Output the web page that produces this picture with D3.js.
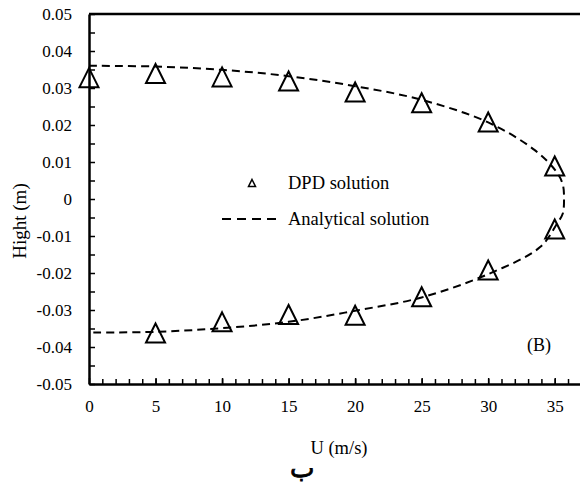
<!DOCTYPE html>
<html>
<head>
<meta charset="utf-8">
<script src="https://cdn.jsdelivr.net/npm/d3@7"></script>
<style>
  body { margin: 0; background: #fff; }
</style>
</head>
<body>
<div id="chart"></div>
<script>
// DPD simulation points (U in m/s, height in m)
var dpdU = [0, 5, 10, 15, 20, 25, 30, 35, 35, 30, 25, 20, 15, 10, 5];
var dpdH = [0.0328, 0.0339, 0.0330, 0.0319, 0.0289, 0.0260, 0.0208, 0.0089,
            -0.0081, -0.0192, -0.0264, -0.0314, -0.0312, -0.0332, -0.0362];

// analytical profile
var analyticU = [0, 5, 10, 15, 20, 25, 30, 33.5, 35.1, 35.6, 35.7,
                 35.6, 35.2, 33.9, 30, 25, 20, 15, 10, 5, 0];
var analyticH = [0.0360, 0.0358, 0.0349, 0.0332, 0.0305, 0.0268, 0.0207, 0.0132, 0.0075, 0.0040, 0,
                 -0.0040, -0.0065, -0.0130, -0.0203, -0.0266, -0.0302, -0.0332, -0.0349, -0.0359, -0.0361];

var xTicks = [0, 5, 10, 15, 20, 25, 30, 35];
var yTicks = [-0.05, -0.04, -0.03, -0.02, -0.01, 0, 0.01, 0.02, 0.03, 0.04, 0.05];

var width = 580, height = 485;
var margin = {top: 14, right: 0, bottom: 101, left: 89};
var serif = "'Liberation Serif', 'Times New Roman', serif";

var svg = d3.select("#chart").append("svg")
  .attr("width", width)
  .attr("height", height)
  .style("font-family", serif);

var x = d3.scaleLinear().domain([0, 36.9]).range([margin.left, width - margin.right]);
var y = d3.scaleLinear().domain([-0.05, 0.05]).range([height - margin.bottom, margin.top]);

// minor ticks
svg.append("g")
  .attr("transform", "translate(0," + y(-0.05) + ")")
  .call(d3.axisBottom(x).tickValues(d3.range(1, 37)).tickSize(-5).tickFormat(""))
  .call(function(g) { g.select(".domain").remove(); g.selectAll("line").attr("stroke-width", 1.5); });

svg.append("g")
  .attr("transform", "translate(" + x(0) + ",0)")
  .call(d3.axisLeft(y).tickValues(d3.range(-0.045, 0.05, 0.01)).tickSize(-6).tickFormat(""))
  .call(function(g) { g.select(".domain").remove(); g.selectAll("line").attr("stroke-width", 1.5); });

// main axes
var xAxis = svg.append("g")
  .attr("transform", "translate(0," + y(-0.05) + ")")
  .call(d3.axisBottom(x).tickValues(xTicks).tickSize(-6).tickPadding(16).tickSizeOuter(0));

var yAxis = svg.append("g")
  .attr("transform", "translate(" + x(0) + ",0)")
  .call(d3.axisLeft(y).tickValues(yTicks).tickSize(-6).tickPadding(17).tickSizeOuter(0)
    .tickFormat(function(d) { return Math.abs(d) < 1e-9 ? "0" : d.toFixed(2); }));

[xAxis, yAxis].forEach(function(g) {
  g.attr("font-family", serif).attr("font-size", 17);
  g.select(".domain").attr("stroke-width", 2.5);
  g.selectAll("line").attr("stroke-width", 1.5);
  g.selectAll("text").style("font-family", serif).style("font-size", "17px");
});

// top border
svg.append("line")
  .attr("x1", x(0)).attr("x2", width)
  .attr("y1", y(0.05)).attr("y2", y(0.05))
  .attr("stroke", "#000").attr("stroke-width", 2.5);

// analytical curve
var line = d3.line()
  .x(function(d, i) { return x(analyticU[i]); })
  .y(function(d, i) { return y(analyticH[i]); })
  .curve(d3.curveCatmullRom);

svg.append("path")
  .attr("d", line(analyticU))
  .attr("fill", "none")
  .attr("stroke", "#000")
  .attr("stroke-width", 2)
  .attr("stroke-dasharray", "8,5");

// triangle markers
function tri(s) {
  return "M0," + (-s) + "L" + s + "," + s + "L" + (-s) + "," + s + "Z";
}

svg.append("g").selectAll("path")
  .data(dpdU)
  .enter().append("path")
    .attr("transform", function(d, i) { return "translate(" + x(d) + "," + y(dpdH[i]) + ")"; })
    .attr("d", tri(9.5))
    .attr("fill", "none")
    .attr("stroke", "#000")
    .attr("stroke-width", 2);

// legend
var legend = svg.append("g");
legend.append("path")
  .attr("transform", "translate(252,183)")
  .attr("d", tri(3.5))
  .attr("fill", "none").attr("stroke", "#000").attr("stroke-width", 1.5);
legend.append("text").attr("x", 288).attr("y", 189).style("font-size", "18.5px").text("DPD solution");
legend.append("line")
  .attr("x1", 222).attr("x2", 278).attr("y1", 219).attr("y2", 219)
  .attr("stroke", "#000").attr("stroke-width", 2).attr("stroke-dasharray", "9,6");
legend.append("text").attr("x", 288).attr("y", 225).style("font-size", "18.5px").text("Analytical solution");

// labels
svg.append("text").attr("x", 527).attr("y", 351).style("font-size", "18px").text("(B)");

svg.append("text")
  .attr("x", 339).attr("y", 454)
  .attr("text-anchor", "middle")
  .style("font-size", "18.5px")
  .text("U (m/s)");

svg.append("text")
  .attr("transform", "translate(26,221) rotate(-90)")
  .attr("text-anchor", "middle")
  .style("font-size", "19px")
  .text("Hight (m)");

svg.append("text")
  .attr("x", 302).attr("y", 477)
  .attr("text-anchor", "middle")
  .style("font-size", "26px")
  .style("stroke", "#000")
  .style("stroke-width", 0.8)
  .text("ب");
</script>
</body>
</html>
